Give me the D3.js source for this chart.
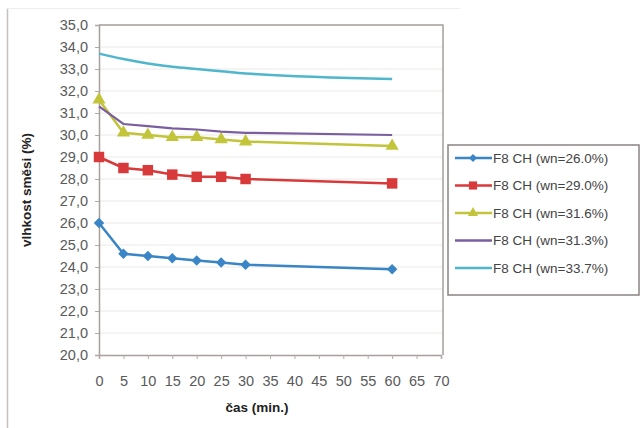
<!DOCTYPE html>
<html lang="cs">
<head>
<meta charset="utf-8">
<script src="https://d3js.org/d3.v7.min.js"></script>
<style>
  body { margin: 0; background: #fff; }
  svg { font-family: "Liberation Sans", Arial, sans-serif; }
  .tick text { fill: #5a5a5a; font-size: 14.5px; }
</style>
</head>
<body>
<svg id="chart" width="644" height="428"></svg>
<script>
// data
let times = [0, 5, 10, 15, 20, 25, 30, 60]
let wn260 = [26.0, 24.6, 24.5, 24.4, 24.3, 24.2, 24.1, 23.9]
let wn290 = [29.0, 28.5, 28.4, 28.2, 28.1, 28.1, 28.0, 27.8]
let wn316 = [31.6, 30.1, 30.0, 29.9, 29.9, 29.8, 29.7, 29.5]
let wn313 = [31.3, 30.5, 30.4, 30.3, 30.25, 30.15, 30.1, 30.0]
let wn337 = [33.7, 33.45, 33.25, 33.1, 33.0, 32.9, 32.8, 32.55]
let seriesNames = ["F8 CH (wn=26.0%)", "F8 CH (wn=29.0%)", "F8 CH (wn=31.6%)", "F8 CH (wn=31.3%)", "F8 CH (wn=33.7%)"]
let xTicks = d3.range(0, 71, 5)
let yTicks = d3.range(20, 35.5, 1)

let colors = ["#3a85c6", "#d8393a", "#c2c43a", "#7a5ea0", "#4fb6cc"]
let markers = ["diamond", "square", "triangle", "none", "none"]
let allSeries = [wn260, wn290, wn316, wn313, wn337]

let svg = d3.select("#chart")
// outer frame line on the left
svg.append("line").attr("x1", 7.5).attr("x2", 7.5).attr("y1", 8).attr("y2", 428).attr("stroke", "#c4c0bc").attr("stroke-width", 1.5)
svg.append("line").attr("x1", 7).attr("x2", 460).attr("y1", 8.5).attr("y2", 8.5).attr("stroke", "#eeeeee")

let x = d3.scaleLinear().domain([0, 70]).range([99, 441])
let y = d3.scaleLinear().domain([20, 35]).range([355, 25])
let comma = d3.formatLocale({decimal: ",", thousands: " ", grouping: [3], currency: ["", ""]}).format(".1f")

// gridlines
svg.append("g").selectAll("line").data(yTicks.slice(1)).enter().append("line")
  .attr("x1", x(0)).attr("x2", 443).attr("y1", d => y(d)).attr("y2", d => y(d))
  .attr("stroke", "#ebe9e7").attr("stroke-width", 1)

// plot frame top & right
svg.append("path").attr("d", `M${x(0)},${y(35)}H443V${y(20)}`).attr("fill", "none").attr("stroke", "#a8a09c").attr("stroke-width", 1.5)

let yAxis = svg.append("g").attr("transform", `translate(${x(0)},0)`)
  .call(d3.axisLeft(y).tickValues(yTicks).tickFormat(comma).tickSize(4).tickPadding(6))
let xAxis = svg.append("g").attr("transform", `translate(0,${y(20)})`)
  .call(d3.axisBottom(x).tickValues(xTicks).tickSize(4).tickPadding(17))
svg.selectAll(".domain").attr("stroke", "#a8a09c").attr("stroke-width", 1.5)
svg.selectAll(".tick line").attr("stroke", "#b0aaa6")
yAxis.selectAll("text").attr("x", -11)
xAxis.selectAll("text").attr("dy", "0.71em")

// axis titles
svg.append("text").attr("transform", "translate(31,190) rotate(-90)").attr("text-anchor", "middle")
  .attr("font-size", 13.5).attr("font-weight", "bold").attr("fill", "#222").text("vlhkost směsi (%)")
svg.append("text").attr("x", 257).attr("y", 412).attr("text-anchor", "middle")
  .attr("font-size", 13.5).attr("font-weight", "bold").attr("fill", "#222").text("čas (min.)")

function markerPath(type, size) {
  if (type == "diamond") return d3.symbol().type(d3.symbolDiamond2).size(size)()
  if (type == "square") return d3.symbol().type(d3.symbolSquare).size(size)()
  if (type == "triangle") return d3.symbol().type(d3.symbolTriangle).size(size)()
  return null
}
let markerSize = {diamond: 70, square: 110, triangle: 75}

allSeries.forEach((vals, i) => {
  let pts = times.map((t, j) => ({t: t, v: vals[j]}))
  let curve = i == 4 ? d3.curveMonotoneX : d3.curveLinear
  let lineMaker = d3.line().x(d => x(d.t)).y(d => y(d.v)).curve(curve)
  svg.append("path").attr("d", lineMaker(pts)).attr("fill", "none")
    .attr("stroke", colors[i]).attr("stroke-width", i == 3 ? 2.2 : 2.5)
  if (markers[i] != "none") {
    svg.append("g").selectAll("path").data(pts).enter().append("path")
      .attr("transform", d => `translate(${x(d.t)},${y(d.v)})`)
      .attr("d", markerPath(markers[i], markerSize[markers[i]]))
      .attr("fill", colors[i])
  }
})

// legend
let legend = svg.append("g")
legend.append("rect").attr("x", 448).attr("y", 145).attr("width", 191).attr("height", 150)
  .attr("fill", "#fff").attr("stroke", "#8a8480").attr("stroke-width", 1.5)
let rowY = d3.scaleLinear().domain([0, 4]).range([158, 268])
seriesNames.forEach((name, i) => {
  let ly = rowY(i)
  legend.append("line").attr("x1", 455).attr("x2", 492).attr("y1", ly).attr("y2", ly)
    .attr("stroke", colors[i]).attr("stroke-width", 2.5)
  if (markers[i] != "none") {
    legend.append("path").attr("transform", `translate(473,${ly})`)
      .attr("d", markerPath(markers[i], markerSize[markers[i]] * 0.6)).attr("fill", colors[i])
  }
  legend.append("text").attr("x", 493).attr("y", ly).attr("dy", "0.35em")
    .attr("font-size", 13.5).attr("fill", "#444").text(name)
})
</script>
</body>
</html>
